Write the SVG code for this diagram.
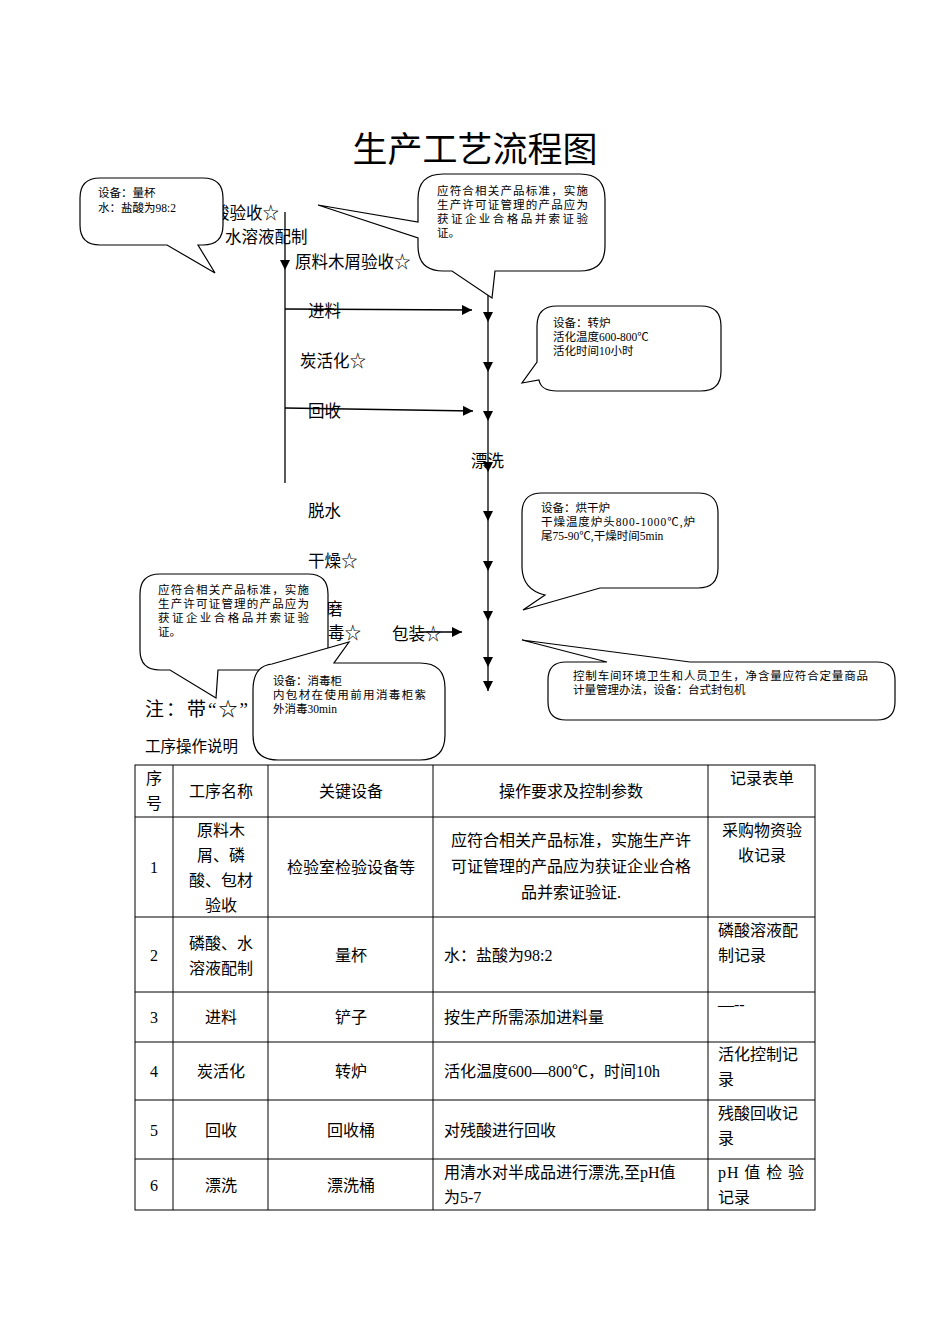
<svg xmlns="http://www.w3.org/2000/svg" width="950" height="1344" viewBox="0 0 950 1344">
<style>
text{font-family:"Liberation Serif","Noto Sans CJK SC",serif;fill:#000}
.t{font-size:16.5px}
.s{font-size:11.5px}
.tb{font-size:16px}
.c{text-anchor:middle}
.bub{fill:#fff;stroke:#000;stroke-width:1.2}
.ln{stroke:#000;stroke-width:1.3;fill:none}
.grid{stroke:#000;stroke-width:1;fill:none}
</style>
<defs>
<marker id="ah" markerUnits="userSpaceOnUse" markerWidth="11" markerHeight="11" refX="10" refY="5" orient="auto">
<path d="M0,0 L10,5 L0,10 Z" fill="#000"/>
</marker>
</defs>
<rect width="950" height="1344" fill="#fff"/>
<text x="475" y="162" class="c" style="font-size:35px">生产工艺流程图</text>

<g id="labels">
<text id="n-acid" x="213" y="219" class="t">酸验收☆</text>
<text id="n-solution" x="225" y="243" class="t">水溶液配制</text>
<text id="n-raw" x="295" y="268" class="t">原料木屑验收☆</text>
<text id="n-feed" x="308" y="317" class="t">进料</text>
<text id="n-act" x="300" y="367" class="t">炭活化☆</text>
<text id="n-rec" x="308" y="417" class="t">回收</text>
<text id="n-rinse" x="471" y="467" class="t">漂洗</text>
<text id="n-dew" x="308" y="517" class="t">脱水</text>
<text id="n-dry" x="308" y="567" class="t">干燥☆</text>
<text id="n-grind" x="326" y="615" class="t">磨</text>
<text id="n-dis" x="328" y="639" class="t">毒☆</text>
<text id="n-pack" x="392" y="640" class="t">包装☆</text>
</g>

<g id="connectors">
<line class="ln" x1="285" y1="212" x2="285" y2="270" marker-end="url(#ah)"/>
<line class="ln" x1="285" y1="270" x2="285" y2="483"/>
<line class="ln" x1="285" y1="309" x2="472" y2="310" marker-end="url(#ah)"/>
<line class="ln" x1="285" y1="408" x2="473" y2="411" marker-end="url(#ah)"/>
<line class="ln" x1="420" y1="632" x2="462" y2="632" marker-end="url(#ah)"/>
<line class="ln" x1="488" y1="292" x2="488" y2="322" marker-end="url(#ah)"/>
<line class="ln" x1="488" y1="322" x2="488" y2="372" marker-end="url(#ah)"/>
<line class="ln" x1="488" y1="372" x2="488" y2="421" marker-end="url(#ah)"/>
<line class="ln" x1="488" y1="421" x2="488" y2="472" marker-end="url(#ah)"/>
<line class="ln" x1="488" y1="472" x2="488" y2="521" marker-end="url(#ah)"/>
<line class="ln" x1="488" y1="521" x2="488" y2="571" marker-end="url(#ah)"/>
<line class="ln" x1="488" y1="571" x2="488" y2="621" marker-end="url(#ah)"/>
<line class="ln" x1="488" y1="621" x2="488" y2="667" marker-end="url(#ah)"/>
<line class="ln" x1="488" y1="667" x2="488" y2="691" marker-end="url(#ah)"/>
</g>

<g id="callout-cup">
<path class="bub" d="M100,178 H203 Q223,178 223,198 V225 Q223,245 203,245 H198 L215,273 L167,245 H100 Q80,245 80,225 V198 Q80,178 100,178 Z"/>
<text x="98" y="197" class="s">设备：量杯</text>
<text x="98" y="212" class="s">水：盐酸为98:2</text>
</g>

<g id="callout-raw">
<path class="bub" d="M443,174 H580 Q605,174 605,199 V246 Q605,271 580,271 H495 L492,298 L452,271 H443 Q418,271 418,246 V238 L318,205 L418,222 V199 Q418,174 443,174 Z"/>
<text x="437" y="195" class="s" textLength="151" lengthAdjust="spacing">应符合相关产品标准，实施</text>
<text x="437" y="209" class="s" textLength="151" lengthAdjust="spacing">生产许可证管理的产品应为</text>
<text x="437" y="223" class="s" textLength="151" lengthAdjust="spacing">获证企业合格品并索证验</text>
<text x="437" y="237" class="s">证。</text>
</g>

<g id="callout-furnace">
<path class="bub" d="M557,306 H701 Q721,306 721,326 V371 Q721,391 701,391 H557 Q541,391 539,380 L522,383 L537,362 V326 Q537,306 557,306 Z"/>
<text x="553" y="327" class="s">设备：转炉</text>
<text x="553" y="341" class="s">活化温度600-800℃</text>
<text x="553" y="355" class="s">活化时间10小时</text>
</g>

<g id="callout-dryer">
<path class="bub" d="M542,493 H698 Q718,493 718,513 V568 Q718,588 698,588 H600 L523,610 L545,595 Q523,590 522,568 V513 Q522,493 542,493 Z"/>
<text x="541" y="512" class="s">设备：烘干炉</text>
<text x="541" y="526" class="s" textLength="154" lengthAdjust="spacing">干燥温度炉头800-1000℃,炉</text>
<text x="541" y="540" class="s">尾75-90℃,干燥时间5min</text>
</g>

<g id="callout-pack">
<path class="bub" d="M566,662 H607 L522,640 L690,662 H877 Q895,662 895,680 V702 Q895,720 877,720 H566 Q548,720 548,702 V680 Q548,662 566,662 Z"/>
<text x="573" y="680" class="s" textLength="295" lengthAdjust="spacing">控制车间环境卫生和人员卫生，净含量应符合定量商品</text>
<text x="573" y="694" class="s">计量管理办法，设备：台式封包机</text>
</g>

<g id="callout-pkg-material">
<path class="bub" d="M160,574 H308 Q328,574 328,594 V650 Q328,670 308,670 H218 L216,698 L170,670 H160 Q140,670 140,650 V594 Q140,574 160,574 Z"/>
<text x="158" y="594" class="s" textLength="151" lengthAdjust="spacing">应符合相关产品标准，实施</text>
<text x="158" y="608" class="s" textLength="151" lengthAdjust="spacing">生产许可证管理的产品应为</text>
<text x="158" y="622" class="s" textLength="151" lengthAdjust="spacing">获证企业合格品并索证验</text>
<text x="158" y="636" class="s">证。</text>
</g>

<text x="145" y="716" style="font-size:19px" textLength="103" lengthAdjust="spacing">注：带“☆”</text>
<text x="145" y="752" style="font-size:15.5px">工序操作说明</text>

<g id="callout-disinfect">
<path class="bub" d="M253,690 Q253,666 272,664 L349,642 L334,663 H420 Q445,663 445,688 V735 Q445,760 420,760 H278 Q253,760 253,735 Z"/>
<text x="273" y="685" class="s">设备：消毒柜</text>
<text x="273" y="699" class="s" textLength="153" lengthAdjust="spacing">内包材在使用前用消毒柜紫</text>
<text x="273" y="713" class="s">外消毒30min</text>
</g>

<g id="table">
<rect class="grid" x="135" y="765" width="680" height="445"/>
<line class="grid" x1="173" y1="765" x2="173" y2="1210"/>
<line class="grid" x1="268" y1="765" x2="268" y2="1210"/>
<line class="grid" x1="433" y1="765" x2="433" y2="1210"/>
<line class="grid" x1="708" y1="765" x2="708" y2="1210"/>
<line class="grid" x1="135" y1="817" x2="815" y2="817"/>
<line class="grid" x1="135" y1="917" x2="815" y2="917"/>
<line class="grid" x1="135" y1="992" x2="815" y2="992"/>
<line class="grid" x1="135" y1="1042" x2="815" y2="1042"/>
<line class="grid" x1="135" y1="1100" x2="815" y2="1100"/>
<line class="grid" x1="135" y1="1159" x2="815" y2="1159"/>

<text x="154" y="784" class="tb c">序</text>
<text x="154" y="809" class="tb c">号</text>
<text x="221" y="797" class="tb c">工序名称</text>
<text x="351" y="797" class="tb c">关键设备</text>
<text x="571" y="797" class="tb c">操作要求及控制参数</text>
<text x="762" y="784" class="tb c">记录表单</text>

<text x="154" y="873" class="tb c">1</text>
<text x="221" y="836" class="tb c">原料木</text>
<text x="221" y="861" class="tb c">屑、磷</text>
<text x="221" y="886" class="tb c">酸、包材</text>
<text x="221" y="911" class="tb c">验收</text>
<text x="351" y="873" class="tb c">检验室检验设备等</text>
<text x="571" y="846" class="tb c">应符合相关产品标准，实施生产许</text>
<text x="571" y="872" class="tb c">可证管理的产品应为获证企业合格</text>
<text x="571" y="898" class="tb c">品并索证验证.</text>
<text x="762" y="836" class="tb c">采购物资验</text>
<text x="762" y="861" class="tb c">收记录</text>

<text x="154" y="961" class="tb c">2</text>
<text x="221" y="949" class="tb c">磷酸、水</text>
<text x="221" y="974" class="tb c">溶液配制</text>
<text x="351" y="961" class="tb c">量杯</text>
<text x="444" y="961" class="tb">水：盐酸为98:2</text>
<text x="718" y="936" class="tb">磷酸溶液配</text>
<text x="718" y="961" class="tb">制记录</text>

<text x="154" y="1023" class="tb c">3</text>
<text x="221" y="1023" class="tb c">进料</text>
<text x="351" y="1023" class="tb c">铲子</text>
<text x="444" y="1023" class="tb">按生产所需添加进料量</text>
<text x="718" y="1010" class="tb">—--</text>

<text x="154" y="1077" class="tb c">4</text>
<text x="221" y="1077" class="tb c">炭活化</text>
<text x="351" y="1077" class="tb c">转炉</text>
<text x="444" y="1077" class="tb">活化温度600—800℃，时间10h</text>
<text x="718" y="1060" class="tb">活化控制记</text>
<text x="718" y="1085" class="tb">录</text>

<text x="154" y="1136" class="tb c">5</text>
<text x="221" y="1136" class="tb c">回收</text>
<text x="351" y="1136" class="tb c">回收桶</text>
<text x="444" y="1136" class="tb">对残酸进行回收</text>
<text x="718" y="1119" class="tb">残酸回收记</text>
<text x="718" y="1144" class="tb">录</text>

<text x="154" y="1191" class="tb c">6</text>
<text x="221" y="1191" class="tb c">漂洗</text>
<text x="351" y="1191" class="tb c">漂洗桶</text>
<text x="444" y="1178" class="tb">用清水对半成品进行漂洗,至pH值</text>
<text x="444" y="1203" class="tb">为5-7</text>
<text x="718" y="1178" class="tb" textLength="86" lengthAdjust="spacing">pH 值 检 验</text>
<text x="718" y="1203" class="tb">记录</text>
</g>
</svg>
